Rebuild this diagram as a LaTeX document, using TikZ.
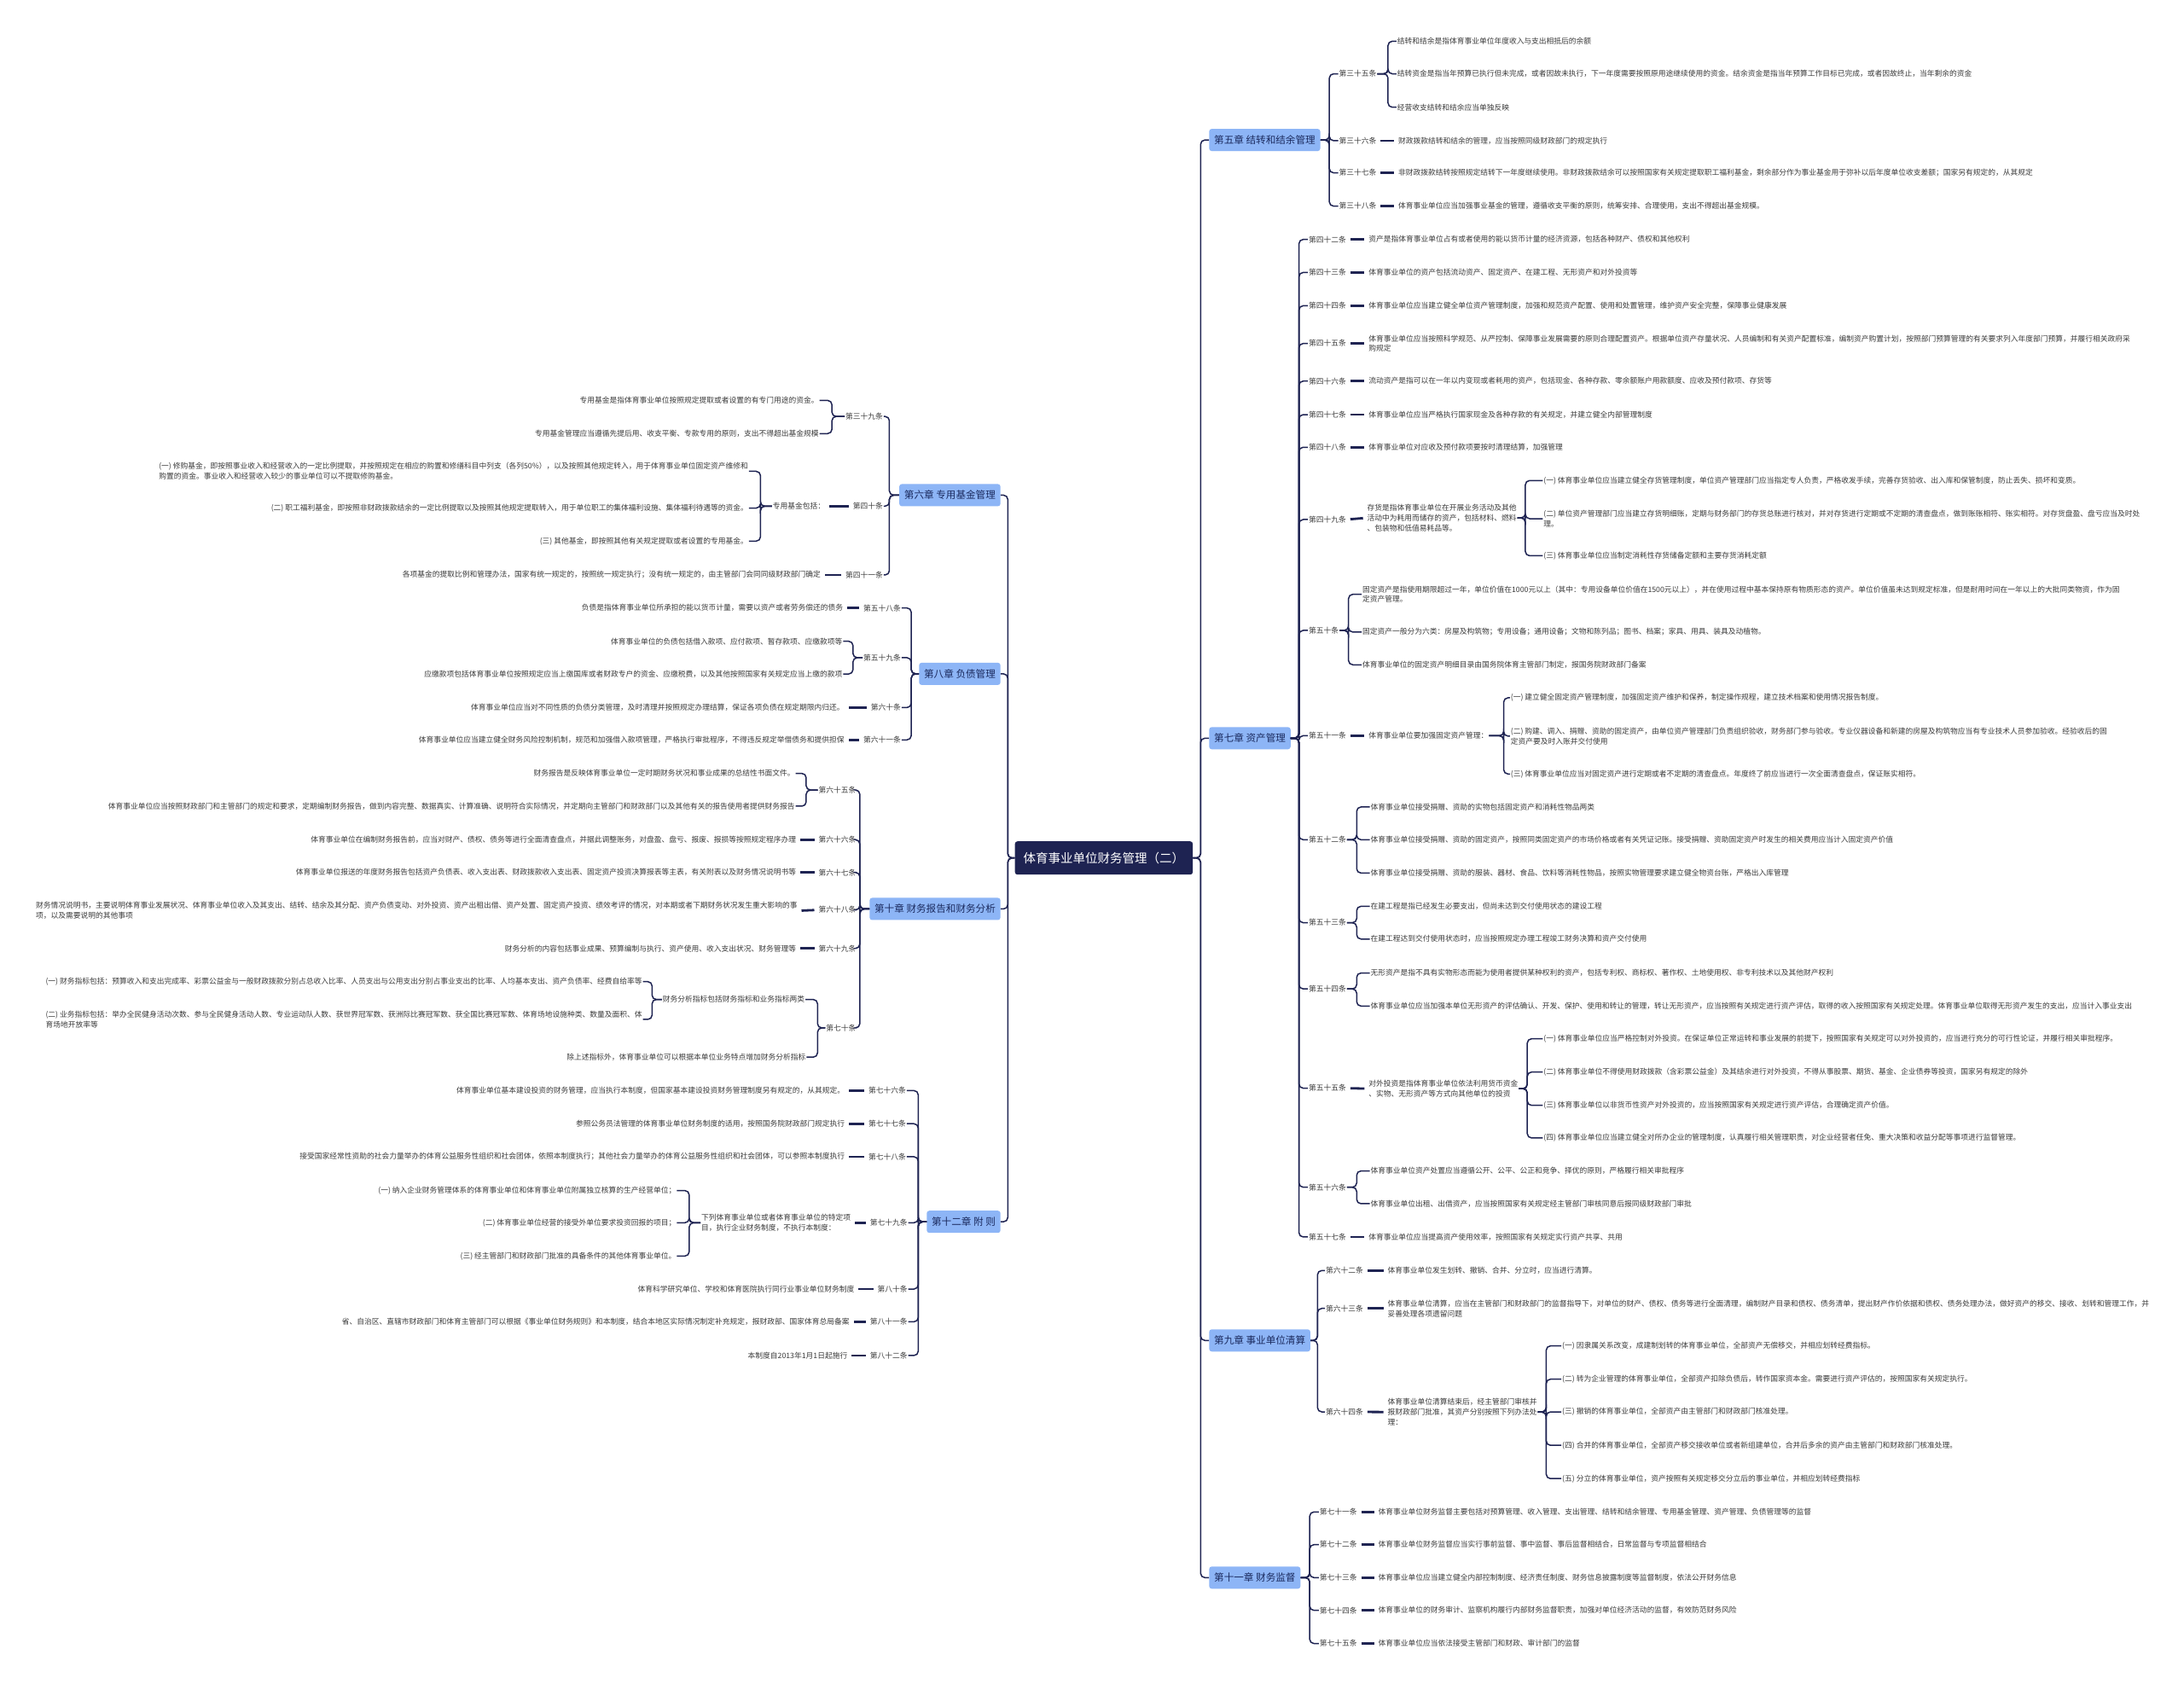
\documentclass[tikz,border=0pt]{standalone}
\usepackage{fontspec}
\setmainfont{Noto Sans CJK SC}
\definecolor{navy}{HTML}{1E2352}
\definecolor{chapfill}{HTML}{8DB5F6}
\definecolor{chaptext}{HTML}{1B2A5E}
\definecolor{txtc}{HTML}{3A3A3A}
\begin{document}
\begin{tikzpicture}[x=1.6327pt, y=-1.6327pt,
    root/.style={fill=navy, text=white, rounded corners=3pt, font=\fontsize{14.5}{16}\selectfont, minimum height=39pt, inner xsep=10pt},
    chap/.style={fill=chapfill, text=chaptext, rounded corners=3pt, font=\fontsize{11.6}{13}\selectfont, minimum height=26pt, inner xsep=5.8pt, inner ysep=2pt},
    txt/.style={text=txtc, font=\fontsize{8.75}{11.9}\selectfont, inner sep=0.8pt, align=left},
    rt/.style={txt, anchor=west},
    lt/.style={txt, anchor=east},
    link/.style={draw=navy, line width=1.5pt, rounded corners=5pt},
    tie/.style={draw=navy, line width=2.8pt, shorten <=4pt, shorten >=4pt}]
    \fill[white] (0,0) rectangle (1568,1209);
    \useasboundingbox (0,0) rectangle (1568,1209);

    % 中心主题
    \node[root] (root) at (792.5,616) {体育事业单位财务管理（二）};

    % 各章
    \node[chap, anchor=west] (c5) at (868,100.5) {第五章 结转和结余管理};
    \node[chap, anchor=west] (c7) at (868,530) {第七章 资产管理};
    \node[chap, anchor=west] (c9) at (868,962.4) {第九章 事业单位清算};
    \node[chap, anchor=west] (c11) at (868,1132.7) {第十一章 财务监督};
    \node[chap, anchor=east] (c6) at (718.4,355.5) {第六章 专用基金管理};
    \node[chap, anchor=east] (c8) at (718.4,483.8) {第八章 负债管理};
    \node[chap, anchor=east] (c10) at (718.4,652.6) {第十章 财务报告和财务分析};
    \node[chap, anchor=east] (c12) at (718.4,877.2) {第十二章 附 则};

    \foreach \c in {c5,c7,c9,c11} \draw[link] (root.east) -- ++(5.5,0) |- (\c.west);
    \foreach \c in {c6,c8,c10,c12} \draw[link] (root.west) -- ++(-5,0) |- (\c.east);

    % 第五章 结转和结余管理
    \node[rt] (a35) at (960.8,53) {第三十五条};
    \node[rt] (t35a) at (1002.5,29.6) {结转和结余是指体育事业单位年度收入与支出相抵后的余额};
    \node[rt] (t35b) at (1002.5,53) {结转资金是指当年预算已执行但未完成，或者因故未执行，下一年度需要按照原用途继续使用的资金。结余资金是指当年预算工作目标已完成，或者因故终止，当年剩余的资金};
    \node[rt] (t35c) at (1002.5,77) {经营收支结转和结余应当单独反映};
    \node[rt] (a36) at (960.8,101) {第三十六条};
    \node[rt] (t36) at (1003.4,101) {财政拨款结转和结余的管理，应当按照同级财政部门的规定执行};
    \node[rt] (a37) at (960.8,124.1) {第三十七条};
    \node[rt] (t37) at (1003.4,124.1) {非财政拨款结转按照规定结转下一年度继续使用。非财政拨款结余可以按照国家有关规定提取职工福利基金，剩余部分作为事业基金用于弥补以后年度单位收支差额；国家另有规定的，从其规定};
    \node[rt] (a38) at (960.8,148) {第三十八条};
    \node[rt] (t38) at (1003.4,148) {体育事业单位应当加强事业基金的管理，遵循收支平衡的原则，统筹安排、合理使用，支出不得超出基金规模。};

    \foreach \n in {a35,a36,a37,a38} \draw[link] (c5.east) -- ++(6.4,0) |- (\n.west);
    \foreach \n in {t35a,t35b,t35c} \draw[link] (a35.east) -- ++(7.7,0) |- (\n.west);
    \draw[tie] (a36.east) -- (t36.west);
    \draw[tie] (a37.east) -- (t37.west);
    \draw[tie] (a38.east) -- (t38.west);

    % 第七章 资产管理
    \node[rt] (a42) at (939,171.9) {第四十二条};
    \node[rt] (t42) at (982.1,171.9) {资产是指体育事业单位占有或者使用的能以货币计量的经济资源，包括各种财产、债权和其他权利};
    \node[rt] (a43) at (939,195.6) {第四十三条};
    \node[rt] (t43) at (982.1,195.6) {体育事业单位的资产包括流动资产、固定资产、在建工程、无形资产和对外投资等};
    \node[rt] (a44) at (939,219.5) {第四十四条};
    \node[rt] (t44) at (982.1,219.5) {体育事业单位应当建立健全单位资产管理制度，加强和规范资产配置、使用和处置管理，维护资产安全完整，保障事业健康发展};
    \node[rt] (a45) at (939,246.6) {第四十五条};
    \node[rt] (t45) at (982.1,246.6) {体育事业单位应当按照科学规范、从严控制、保障事业发展需要的原则合理配置资产。根据单位资产存量状况、人员编制和有关资产配置标准，编制资产购置计划，按照部门预算管理的有关要求列入年度部门预算，并履行相关政府采\\购规定};
    \node[rt] (a46) at (939,273.6) {第四十六条};
    \node[rt] (t46) at (982.1,273.6) {流动资产是指可以在一年以内变现或者耗用的资产，包括现金、各种存款、零余额账户用款额度、应收及预付款项、存货等};
    \node[rt] (a47) at (939,297.7) {第四十七条};
    \node[rt] (t47) at (982.1,297.7) {体育事业单位应当严格执行国家现金及各种存款的有关规定，并建立健全内部管理制度};
    \node[rt] (a48) at (939,321.1) {第四十八条};
    \node[rt] (t48) at (982.1,321.1) {体育事业单位对应收及预付款项要按时清理结算，加强管理};

    \node[rt] (a49) at (939,373) {第四十九条};
    \node[rt] (tb49) at (981,371.8) {存货是指体育事业单位在开展业务活动及其他\\活动中为耗用而储存的资产，包括材料、燃料\\、包装物和低值易耗品等。};
    \node[rt] (t49a) at (1107.6,345) {(一) 体育事业单位应当建立健全存货管理制度，单位资产管理部门应当指定专人负责，严格收发手续，完善存货验收、出入库和保管制度，防止丢失、损坏和变质。};
    \node[rt] (t49b) at (1107.6,372.4) {(二) 单位资产管理部门应当建立存货明细账，定期与财务部门的存货总账进行核对，并对存货进行定期或不定期的清查盘点，做到账账相符、账实相符。对存货盘盈、盘亏应当及时处\\理。};
    \node[rt] (t49c) at (1107.6,399) {(三) 体育事业单位应当制定消耗性存货储备定额和主要存货消耗定额};

    \node[rt] (a50) at (939,452.6) {第五十条};
    \node[rt] (t50a) at (977.6,426.7) {固定资产是指使用期限超过一年，单位价值在1000元以上（其中：专用设备单位价值在1500元以上），并在使用过程中基本保持原有物质形态的资产。单位价值虽未达到规定标准，但是耐用时间在一年以上的大批同类物资，作为固\\定资产管理。};
    \node[rt] (t50b) at (977.6,453.8) {固定资产一般分为六类：房屋及构筑物；专用设备；通用设备；文物和陈列品；图书、档案；家具、用具、装具及动植物。};
    \node[rt] (t50c) at (977.6,477.3) {体育事业单位的固定资产明细目录由国务院体育主管部门制定，报国务院财政部门备案};

    \node[rt] (a51) at (939,528.2) {第五十一条};
    \node[rt] (tb51) at (982.1,528.2) {体育事业单位要加强固定资产管理：};
    \node[rt] (t51a) at (1084,501) {(一) 建立健全固定资产管理制度，加强固定资产维护和保养，制定操作规程，建立技术档案和使用情况报告制度。};
    \node[rt] (t51b) at (1084,528.5) {(二) 购建、调入、捐赠、资助的固定资产，由单位资产管理部门负责组织验收，财务部门参与验收。专业仪器设备和新建的房屋及构筑物应当有专业技术人员参加验收。经验收后的固\\定资产要及时入账并交付使用};
    \node[rt] (t51c) at (1084,555.7) {(三) 体育事业单位应当对固定资产进行定期或者不定期的清查盘点。年度终了前应当进行一次全面清查盘点，保证账实相符。};

    \node[rt] (a52) at (939,602.9) {第五十二条};
    \node[rt] (t52a) at (983.5,579.4) {体育事业单位接受捐赠、资助的实物包括固定资产和消耗性物品两类};
    \node[rt] (t52b) at (983.5,602.9) {体育事业单位接受捐赠、资助的固定资产，按照同类固定资产的市场价格或者有关凭证记账。接受捐赠、资助固定资产时发生的相关费用应当计入固定资产价值};
    \node[rt] (t52c) at (983.5,626.8) {体育事业单位接受捐赠、资助的服装、器材、食品、饮料等消耗性物品，按照实物管理要求建立健全物资台账，严格出入库管理};

    \node[rt] (a53) at (939,662.5) {第五十三条};
    \node[rt] (t53a) at (983.5,650.7) {在建工程是指已经发生必要支出，但尚未达到交付使用状态的建设工程};
    \node[rt] (t53b) at (983.5,674.2) {在建工程达到交付使用状态时，应当按照规定办理工程竣工财务决算和资产交付使用};

    \node[rt] (a54) at (939,710) {第五十四条};
    \node[rt] (t54a) at (983.5,698.6) {无形资产是指不具有实物形态而能为使用者提供某种权利的资产，包括专利权、商标权、著作权、土地使用权、非专利技术以及其他财产权利};
    \node[rt] (t54b) at (983.5,722.3) {体育事业单位应当加强本单位无形资产的评估确认、开发、保护、使用和转让的管理，转让无形资产，应当按照有关规定进行资产评估，取得的收入按照国家有关规定处理。体育事业单位取得无形资产发生的支出，应当计入事业支出};

    \node[rt] (a55) at (939,781.3) {第五十五条};
    \node[rt] (tb55) at (982.1,781.6) {对外投资是指体育事业单位依法利用货币资金\\、实物、无形资产等方式向其他单位的投资};
    \node[rt] (t55a) at (1107.6,745.8) {(一) 体育事业单位应当严格控制对外投资。在保证单位正常运转和事业发展的前提下，按照国家有关规定可以对外投资的，应当进行充分的可行性论证，并履行相关审批程序。};
    \node[rt] (t55b) at (1107.6,769.7) {(二) 体育事业单位不得使用财政拨款（含彩票公益金）及其结余进行对外投资，不得从事股票、期货、基金、企业债券等投资，国家另有规定的除外};
    \node[rt] (t55c) at (1107.6,793.6) {(三) 体育事业单位以非货币性资产对外投资的，应当按照国家有关规定进行资产评估，合理确定资产价值。};
    \node[rt] (t55d) at (1107.6,817) {(四) 体育事业单位应当建立健全对所办企业的管理制度，认真履行相关管理职责，对企业经营者任免、重大决策和收益分配等事项进行监督管理。};

    \node[rt] (a56) at (939,852.4) {第五十六条};
    \node[rt] (t56a) at (983.5,840.7) {体育事业单位资产处置应当遵循公开、公平、公正和竞争、择优的原则，严格履行相关审批程序};
    \node[rt] (t56b) at (983.5,864.2) {体育事业单位出租、出借资产，应当按照国家有关规定经主管部门审核同意后报同级财政部门审批};
    \node[rt] (a57) at (939,888.1) {第五十七条};
    \node[rt] (t57) at (982.1,888.1) {体育事业单位应当提高资产使用效率，按照国家有关规定实行资产共享、共用};

    \foreach \n in {a42,a43,a44,a45,a46,a47,a48,a49,a50,a51,a52,a53,a54,a55,a56,a57}
        \draw[link] (c7.east) -- ++(5.9,0) |- (\n.west);
    \foreach \a/\t in {a42/t42,a43/t43,a44/t44,a45/t45,a46/t46,a47/t47,a48/t48,a49/tb49,a51/tb51,a55/tb55,a57/t57}
        \draw[tie] (\a.east) -- (\t.west);
    \foreach \n in {t49a,t49b,t49c} \draw[link] (tb49.east) -- ++(5.7,0) |- (\n.west);
    \foreach \n in {t50a,t50b,t50c} \draw[link] (a50.east) -- ++(6.5,0) |- (\n.west);
    \foreach \n in {t51a,t51b,t51c} \draw[link] (tb51.east) -- ++(10.5,0) |- (\n.west);
    \foreach \n in {t52a,t52b,t52c} \draw[link] (a52.east) -- ++(7,0) |- (\n.west);
    \foreach \n in {t53a,t53b} \draw[link] (a53.east) -- ++(7,0) |- (\n.west);
    \foreach \n in {t54a,t54b} \draw[link] (a54.east) -- ++(7,0) |- (\n.west);
    \foreach \n in {t55a,t55b,t55c,t55d} \draw[link] (tb55.east) -- ++(6,0) |- (\n.west);
    \foreach \n in {t56a,t56b} \draw[link] (a56.east) -- ++(7,0) |- (\n.west);

    % 第九章 事业单位清算
    \node[rt] (a62) at (951.3,912.2) {第六十二条};
    \node[rt] (t62) at (995.7,912.2) {体育事业单位发生划转、撤销、合并、分立时，应当进行清算。};
    \node[rt] (a63) at (951.3,939.4) {第六十三条};
    \node[rt] (t63) at (995.7,939.4) {体育事业单位清算，应当在主管部门和财政部门的监督指导下，对单位的财产、债权、债务等进行全面清理，编制财产目录和债权、债务清单，提出财产作价依据和债权、债务处理办法，做好资产的移交、接收、划转和管理工作，并\\妥善处理各项遗留问题};
    \node[rt] (a64) at (951.3,1013.7) {第六十四条};
    \node[rt] (tb64) at (995.7,1013.8) {体育事业单位清算结束后，经主管部门审核并\\报财政部门批准，其资产分别按照下列办法处\\理：};
    \node[rt] (t64a) at (1121,966.3) {(一) 因隶属关系改变，成建制划转的体育事业单位，全部资产无偿移交，并相应划转经费指标。};
    \node[rt] (t64b) at (1121,990.2) {(二) 转为企业管理的体育事业单位，全部资产扣除负债后，转作国家资本金。需要进行资产评估的，按照国家有关规定执行。};
    \node[rt] (t64c) at (1121,1013.7) {(三) 撤销的体育事业单位，全部资产由主管部门和财政部门核准处理。};
    \node[rt] (t64d) at (1121,1037.7) {(四) 合并的体育事业单位，全部资产移交接收单位或者新组建单位，合并后多余的资产由主管部门和财政部门核准处理。};
    \node[rt] (t64e) at (1121,1061.6) {(五) 分立的体育事业单位，资产按照有关规定移交分立后的事业单位，并相应划转经费指标};

    \foreach \n in {a62,a63,a64} \draw[link] (c9.east) -- ++(5,0) |- (\n.west);
    \foreach \a/\t in {a62/t62,a63/t63,a64/tb64} \draw[tie] (\a.east) -- (\t.west);
    \foreach \n in {t64a,t64b,t64c,t64d,t64e} \draw[link] (tb64.east) -- ++(6,0) |- (\n.west);

    % 第十一章 财务监督
    \node[rt] (a71) at (946.8,1085.5) {第七十一条};
    \node[rt] (t71) at (989,1085.5) {体育事业单位财务监督主要包括对预算管理、收入管理、支出管理、结转和结余管理、专用基金管理、资产管理、负债管理等的监督};
    \node[rt] (a72) at (946.8,1109) {第七十二条};
    \node[rt] (t72) at (989,1109) {体育事业单位财务监督应当实行事前监督、事中监督、事后监督相结合，日常监督与专项监督相结合};
    \node[rt] (a73) at (946.8,1132.7) {第七十三条};
    \node[rt] (t73) at (989,1132.7) {体育事业单位应当建立健全内部控制制度、经济责任制度、财务信息披露制度等监督制度，依法公开财务信息};
    \node[rt] (a74) at (946.8,1156.2) {第七十四条};
    \node[rt] (t74) at (989,1156.2) {体育事业单位的财务审计、监察机构履行内部财务监督职责，加强对单位经济活动的监督，有效防范财务风险};
    \node[rt] (a75) at (946.8,1180) {第七十五条};
    \node[rt] (t75) at (989,1180) {体育事业单位应当依法接受主管部门和财政、审计部门的监督};

    \foreach \n in {a71,a72,a73,a74,a75} \draw[link] (c11.east) -- ++(6.5,0) |- (\n.west);
    \foreach \a/\t in {a71/t71,a72/t72,a73/t73,a74/t74,a75/t75} \draw[tie] (\a.east) -- (\t.west);

    % 第六章 专用基金管理
    \node[lt] (a39) at (634.5,299) {第三十九条};
    \node[lt] (s39a) at (588.4,287.5) {专用基金是指体育事业单位按照规定提取或者设置的有专门用途的资金。};
    \node[lt] (s39b) at (588.4,311.3) {专用基金管理应当遵循先提后用、收支平衡、专款专用的原则，支出不得超出基金规模};
    \node[lt] (a40) at (634.5,363.4) {第四十条};
    \node[lt] (m40) at (593,363.4) {专用基金包括：};
    \node[lt] (s40a) at (537.7,338.4) {(一) 修购基金，即按照事业收入和经营收入的一定比例提取，并按照规定在相应的购置和修缮科目中列支（各列50\%），以及按照其他规定转入，用于体育事业单位固定资产维修和\\购置的资金。事业收入和经营收入较少的事业单位可以不提取修购基金。};
    \node[lt] (s40b) at (537.7,364.8) {(二) 职工福利基金，即按照非财政拨款结余的一定比例提取以及按照其他规定提取转入，用于单位职工的集体福利设施、集体福利待遇等的资金。};
    \node[lt] (s40c) at (537.7,388.5) {(三) 其他基金，即按照其他有关规定提取或者设置的专用基金。};
    \node[lt] (a41) at (634.5,412.8) {第四十一条};
    \node[lt] (s41) at (589.8,412.8) {各项基金的提取比例和管理办法，国家有统一规定的，按照统一规定执行；没有统一规定的，由主管部门会同同级财政部门确定};

    \foreach \n in {a39,a40,a41} \draw[link] (c6.west) -- ++(-7,0) |- (\n.east);
    \foreach \n in {s39a,s39b} \draw[link] (a39.west) -- ++(-9.2,0) |- (\n.east);
    \draw[tie] (a40.west) -- (m40.east);
    \foreach \n in {s40a,s40b,s40c} \draw[link] (m40.west) -- ++(-8.3,0) |- (\n.east);
    \draw[tie] (a41.west) -- (s41.east);

    % 第八章 负债管理
    \node[lt] (a58) at (647.4,436.5) {第五十八条};
    \node[lt] (s58) at (605.9,436.5) {负债是指体育事业单位所承担的能以货币计量，需要以资产或者劳务偿还的债务};
    \node[lt] (a59) at (647.4,472.2) {第五十九条};
    \node[lt] (s59a) at (605.4,460.4) {体育事业单位的负债包括借入款项、应付款项、暂存款项、应缴款项等};
    \node[lt] (s59b) at (605.4,483.9) {应缴款项包括体育事业单位按照规定应当上缴国库或者财政专户的资金、应缴税费，以及其他按照国家有关规定应当上缴的款项};
    \node[lt] (a60) at (647.4,508) {第六十条};
    \node[lt] (s60) at (606.8,508) {体育事业单位应当对不同性质的负债分类管理，及时清理并按照规定办理结算，保证各项负债在规定期限内归还。};
    \node[lt] (a61) at (647.4,531.2) {第六十一条};
    \node[lt] (s61) at (606.8,531.2) {体育事业单位应当建立健全财务风险控制机制，规范和加强借入款项管理，严格执行审批程序，不得违反规定举借债务和提供担保};

    \foreach \n in {a58,a59,a60,a61} \draw[link] (c8.west) -- ++(-5.5,0) |- (\n.east);
    \foreach \n in {s59a,s59b} \draw[link] (a59.west) -- ++(-7,0) |- (\n.east);
    \foreach \a/\s in {a58/s58,a60/s60,a61/s61} \draw[tie] (\a.west) -- (\s.east);

    % 第十章 财务报告和财务分析
    \node[lt] (a65) at (615.1,567.2) {第六十五条};
    \node[lt] (s65a) at (571.3,555.3) {财务报告是反映体育事业单位一定时期财务状况和事业成果的总结性书面文件。};
    \node[lt] (s65b) at (571.3,578.8) {体育事业单位应当按照财政部门和主管部门的规定和要求，定期编制财务报告，做到内容完整、数据真实、计算准确、说明符合实际情况，并定期向主管部门和财政部门以及其他有关的报告使用者提供财务报告};
    \node[lt] (a66) at (615.1,602.9) {第六十六条};
    \node[lt] (s66) at (572.2,602.9) {体育事业单位在编制财务报告前，应当对财产、债权、债务等进行全面清查盘点，并据此调整账务，对盘盈、盘亏、报废、报损等按照规定程序办理};
    \node[lt] (a67) at (615.1,626.4) {第六十七条};
    \node[lt] (s67) at (572.2,626.4) {体育事业单位报送的年度财务报告包括资产负债表、收入支出表、财政拨款收入支出表、固定资产投资决算报表等主表，有关附表以及财务情况说明书等};
    \node[lt] (a68) at (615.1,653.3) {第六十八条};
    \node[lt] (s68) at (573,653.9) {财务情况说明书，主要说明体育事业发展状况、体育事业单位收入及其支出、结转、结余及其分配、资产负债变动、对外投资、资产出租出借、资产处置、固定资产投资、绩效考评的情况，对本期或者下期财务状况发生重大影响的事\\项，以及需要说明的其他事项};
    \node[lt] (a69) at (615.1,680.9) {第六十九条};
    \node[lt] (s69) at (572.2,680.9) {财务分析的内容包括事业成果、预算编制与执行、资产使用、收入支出状况、财务管理等};
    \node[lt] (a70) at (615.1,738) {第七十条};
    \node[lt] (m70) at (578.2,717.6) {财务分析指标包括财务指标和业务指标两类};
    \node[lt] (s70a) at (461.6,704.8) {(一) 财务指标包括：预算收入和支出完成率、彩票公益金与一般财政拨款分别占总收入比率、人员支出与公用支出分别占事业支出的比率、人均基本支出、资产负债率、经费自给率等};
    \node[lt] (s70b) at (461.6,731.9) {(二) 业务指标包括：举办全民健身活动次数、参与全民健身活动人数、专业运动队人数、获世界冠军数、获洲际比赛冠军数、获全国比赛冠军数、体育场地设施种类、数量及面积、体\\育场地开放率等};
    \node[lt] (s70c) at (579,759) {除上述指标外，体育事业单位可以根据本单位业务特点增加财务分析指标};

    \foreach \n in {a65,a66,a67,a68,a69,a70} \draw[link] (c10.west) -- ++(-6.9,0) |- (\n.east);
    \foreach \n in {s65a,s65b} \draw[link] (a65.west) -- ++(-8.3,0) |- (\n.east);
    \foreach \a/\s in {a66/s66,a67/s67,a68/s68,a69/s69} \draw[tie] (\a.west) -- (\s.east);
    \foreach \n in {m70,s70c} \draw[link] (a70.west) -- ++(-5.5,0) |- (\n.east);
    \foreach \n in {s70a,s70b} \draw[link] (m70.west) -- ++(-7,0) |- (\n.east);

    % 第十二章 附 则
    \node[lt] (a76) at (651,783) {第七十六条};
    \node[lt] (s76) at (607,783) {体育事业单位基本建设投资的财务管理，应当执行本制度，但国家基本建设投资财务管理制度另有规定的，从其规定。};
    \node[lt] (a77) at (651,806.8) {第七十七条};
    \node[lt] (s77) at (607,806.8) {参照公务员法管理的体育事业单位财务制度的适用，按照国务院财政部门规定执行};
    \node[lt] (a78) at (651,830.5) {第七十八条};
    \node[lt] (s78) at (607,830.5) {接受国家经常性资助的社会力量举办的体育公益服务性组织和社会团体，依照本制度执行；其他社会力量举办的体育公益服务性组织和社会团体，可以参照本制度执行};
    \node[lt] (a79) at (652,877.9) {第七十九条};
    \node[lt] (m79) at (611.4,877.9) {下列体育事业单位或者体育事业单位的特定项\\目，执行企业财务制度，不执行本制度：};
    \node[lt] (s79a) at (486,854.8) {(一) 纳入企业财务管理体系的体育事业单位和体育事业单位附属独立核算的生产经营单位；};
    \node[lt] (s79b) at (486,877.9) {(二) 体育事业单位经营的接受外单位要求投资回报的项目；};
    \node[lt] (s79c) at (486,901.8) {(三) 经主管部门和财政部门批准的具备条件的其他体育事业单位。};
    \node[lt] (a80) at (652,925.5) {第八十条};
    \node[lt] (s80) at (614,925.5) {体育科学研究单位、学校和体育医院执行同行业事业单位财务制度};
    \node[lt] (a81) at (652,949) {第八十一条};
    \node[lt] (s81) at (610.5,949) {省、自治区、直辖市财政部门和体育主管部门可以根据《事业单位财务规则》和本制度，结合本地区实际情况制定补充规定，报财政部、国家体育总局备案};
    \node[lt] (a82) at (652,973.2) {第八十二条};
    \node[lt] (s82) at (609,973.2) {本制度自2013年1月1日起施行};

    \foreach \n in {a76,a77,a78,a79,a80,a81,a82} \draw[link] (c12.west) -- ++(-6,0) |- (\n.east);
    \foreach \a/\s in {a76/s76,a77/s77,a78/s78,a79/m79,a80/s80,a81/s81,a82/s82} \draw[tie] (\a.west) -- (\s.east);
    \foreach \n in {s79a,s79b,s79c} \draw[link] (m79.west) -- ++(-8.2,0) |- (\n.east);
\end{tikzpicture}
\end{document}
